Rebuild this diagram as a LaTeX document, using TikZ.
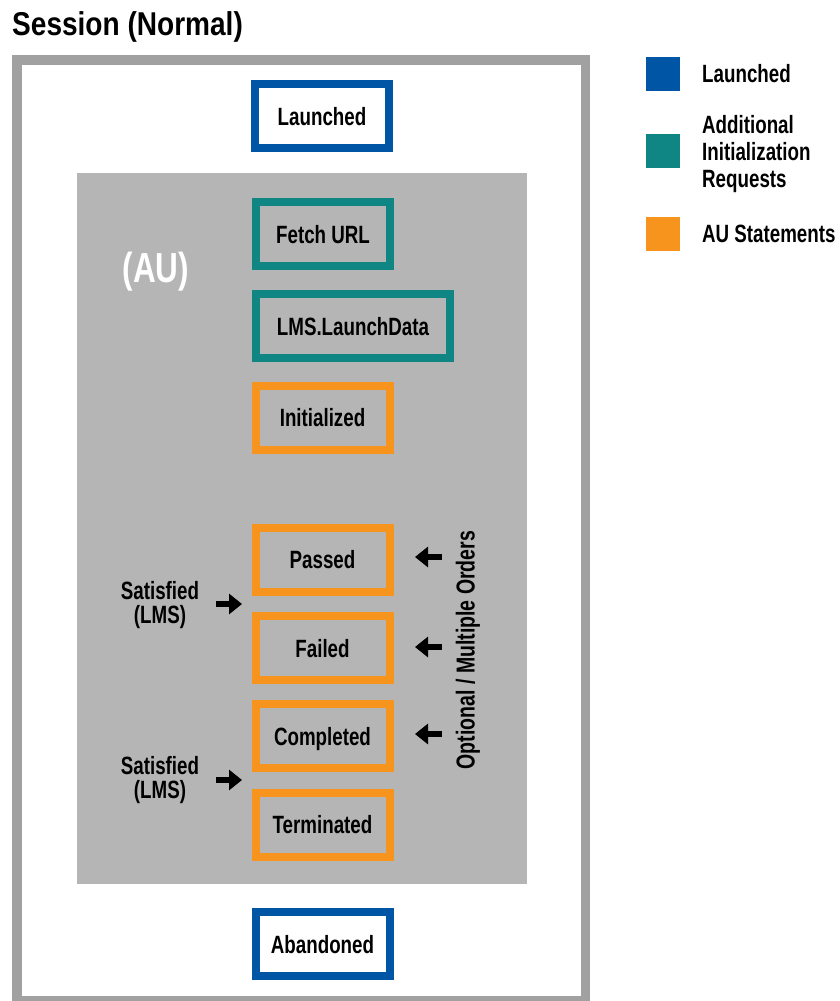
\documentclass[tikz,border=0pt]{standalone}
\usepackage{fontspec}
\newfontfamily\condfont{Liberation Sans}[FakeStretch=0.75]
\newfontfamily\titlefont{Liberation Sans}[FakeStretch=0.85]
\usetikzlibrary{arrows.meta}
\definecolor{launchblue}{HTML}{0055A5}
\definecolor{initteal}{HTML}{0F8683}
\definecolor{stmtorange}{HTML}{F7941E}
\definecolor{augray}{HTML}{B5B5B5}
\definecolor{framegray}{HTML}{A1A1A1}
\begin{document}
\begin{tikzpicture}[x=1pt,y=-1pt,
  lbl/.style={font=\condfont\bfseries\fontsize{25}{27}\selectfont},
  stbox/.style={draw, line width=8pt, minimum width=134pt, minimum height=64pt,
    inner sep=0pt, text height=18pt, text depth=0pt, lbl},
  launchbox/.style={stbox, draw=launchblue, fill=white},
  initbox/.style={stbox, draw=initteal},
  stmtbox/.style={stbox, draw=stmtorange},
  keybox/.style={minimum size=34pt, inner sep=0pt},
  pointer/.style={line width=6pt, -{Triangle[width=20pt,length=13pt]}},
]
\useasboundingbox (0,0) rectangle (839,1001);
\clip (0,0) rectangle (839,1001);
\fill[white] (0,0) rectangle (839,1001);

% session frame and the AU area inside it
\draw[framegray, line width=9.5pt] (16.75,59.75) rectangle (585.25,1000.75);
\fill[augray] (77,173) rectangle (527,884);

\node[anchor=base west, inner sep=0pt,
  font=\titlefont\bfseries\fontsize{33}{36}\selectfont] (title) at (12,35) {Session (Normal)};
\node[white, inner sep=0pt, font=\condfont\bfseries\fontsize{42}{44}\selectfont] (au) at (156,272) {(AU)};

% statement boxes
\node[launchbox] (launched) at (322,116) {Launched};
\node[initbox] (fetch) at (323,234) {Fetch URL};
\node[initbox, minimum width=194pt] (lmsdata) at (353,326) {LMS.LaunchData};
\node[stmtbox] (initialized) at (322.5,417.5) {Initialized};
\node[stmtbox] (passed) at (322.5,559.5) {Passed};
\node[stmtbox] (failed) at (322.5,648) {Failed};
\node[stmtbox] (completed) at (322.5,736) {Completed};
\node[stmtbox] (terminated) at (322.5,824.5) {Terminated};
\node[launchbox] (abandoned) at (322.5,944) {Abandoned};

% satisfied markers on the left
\node[lbl, align=center, font=\condfont\bfseries\fontsize{25}{24.5}\selectfont] (sat1) at (160,605) {Satisfied\\(LMS)};
\node[lbl, align=center, font=\condfont\bfseries\fontsize{25}{24.5}\selectfont] (sat2) at (160,780) {Satisfied\\(LMS)};
\coordinate (s1a) at (216,604);
\coordinate (s1b) at (242,604);
\coordinate (s2a) at (216,780);
\coordinate (s2b) at (242,780);
\draw[pointer] (s1a) -- (s1b);
\draw[pointer] (s2a) -- (s2b);

% optional ordering markers on the right
\node[lbl, rotate=90, inner sep=0pt, font=\condfont\bfseries\fontsize{26}{27}\selectfont] (optional) at (468,650) {Optional / Multiple Orders};
\coordinate (o1a) at (442,557);
\coordinate (o1b) at (415,557);
\coordinate (o2a) at (442,647);
\coordinate (o2b) at (415,647);
\coordinate (o3a) at (442,734);
\coordinate (o3b) at (415,734);
\draw[pointer] (o1a) -- (o1b);
\draw[pointer] (o2a) -- (o2b);
\draw[pointer] (o3a) -- (o3b);

% legend
\node[keybox, fill=launchblue] (keyblue) at (663,74) {};
\node[keybox, fill=initteal] (keyteal) at (663,151) {};
\node[keybox, fill=stmtorange] (keyorange) at (663,234) {};
\node[lbl, anchor=west, inner sep=0pt] (keybluetext) at (702,74) {Launched};
\node[lbl, anchor=west, inner sep=0pt, align=left] (keytealtext) at (702,154) {Additional\\Initialization\\Requests};
\node[lbl, anchor=west, inner sep=0pt] (keyorangetext) at (702,234) {AU Statements};
\end{tikzpicture}
\end{document}
